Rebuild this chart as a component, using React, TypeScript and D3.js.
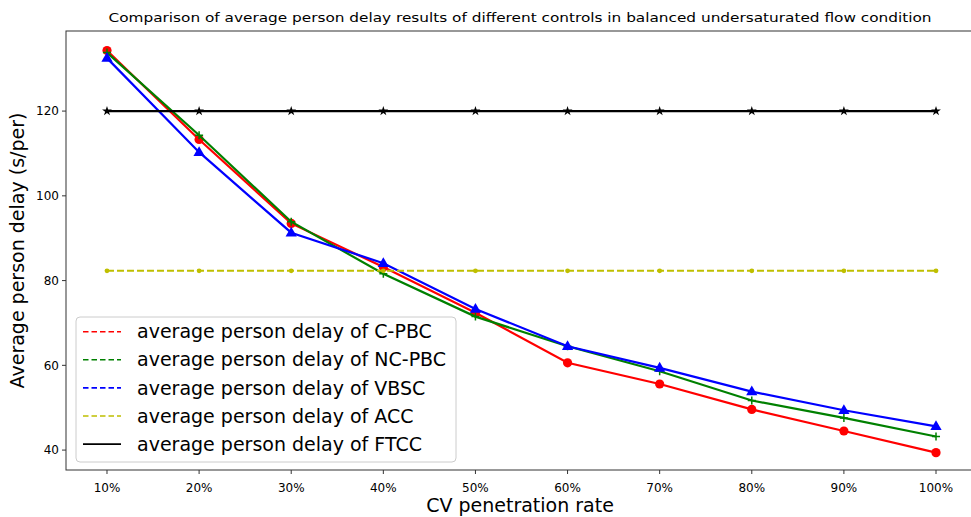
import React from "react";
import * as d3 from "d3";

const categories = ["10%", "20%", "30%", "40%", "50%", "60%", "70%", "80%", "90%", "100%"];
const cpbc = [134.3, 113.3, 93.5, 83.2, 72.4, 60.6, 55.6, 49.6, 44.5, 39.4];
const ncpbc = [133.8, 114.3, 93.9, 81.6, 71.5, 64.5, 58.6, 51.7, 47.6, 43.2];
const vbsc = [132.5, 110.3, 91.3, 84.1, 73.3, 64.5, 59.4, 53.8, 49.4, 45.6];
const acc = [82.3, 82.3, 82.3, 82.3, 82.3, 82.3, 82.3, 82.3, 82.3, 82.3];
const ftcc = [120, 120, 120, 120, 120, 120, 120, 120, 120, 120];
const yTicks = [40, 60, 80, 100, 120];
const legendLabels = [
  "average person delay of C-PBC",
  "average person delay of NC-PBC",
  "average person delay of VBSC",
  "average person delay of ACC",
  "average person delay of FTCC",
];

const font = "'DejaVu Sans', sans-serif";

const series = [
  { name: "C-PBC", values: cpbc, color: "#ff0000", marker: "circle", dashed: true },
  { name: "NC-PBC", values: ncpbc, color: "#008000", marker: "plus", dashed: true },
  { name: "VBSC", values: vbsc, color: "#0000ff", marker: "triangle", dashed: true },
  { name: "ACC", values: acc, color: "#bfbf00", marker: "dot", dashed: true },
  { name: "FTCC", values: ftcc, color: "#000000", marker: "star", dashed: false },
];

const App: React.FC = () => {
  const width = 971;
  const height = 517;
  const margin = { top: 31, left: 66, right: 977, bottom: 470 };

  const x = d3.scaleLinear().domain([-0.445, 9.445]).range([margin.left, margin.right]);
  const y = d3.scaleLinear().domain([35.3, 138.9]).range([margin.bottom, margin.top]);

  const line = d3
    .line<number>()
    .x((_, i) => x(i))
    .y((d) => y(d));

  const triangle = d3.symbol().type(d3.symbolTriangle).size(55)()!;
  const star = d3.symbol().type(d3.symbolStar).size(30)()!;

  const drawMarker = (kind: string, cx: number, cy: number, color: string, key: string) => {
    if (kind === "circle") return <circle key={key} cx={cx} cy={cy} r={4.6} fill={color} />;
    if (kind === "dot") return <circle key={key} cx={cx} cy={cy} r={2.4} fill={color} />;
    if (kind === "plus")
      return (
        <path key={key} d={`M${cx - 4},${cy}H${cx + 4}M${cx},${cy - 4}V${cy + 4}`} stroke={color} strokeWidth={1.5} />
      );
    if (kind === "triangle")
      return <path key={key} d={triangle} transform={`translate(${cx},${cy + 0.5})`} fill={color} />;
    return <path key={key} d={star} transform={`translate(${cx},${cy})`} fill={color} />;
  };

  const legendX = 76;
  const legendY = 317;
  const rowH = 28.1;

  return (
    <svg
      width={width}
      height={height}
      style={{ position: "absolute", left: 0, top: 0, background: "#fff" }}
      fontFamily={font}
    >
      <rect x={0} y={0} width={width} height={height} fill="#fff" />

      {/* title */}
      <text x={520} y={22} textAnchor="middle" fontSize={13} textLength={823} lengthAdjust="spacingAndGlyphs">
        Comparison of average person delay results of different controls in balanced undersaturated flow condition
      </text>

      {/* series lines */}
      {series.map((s) => (
        <g key={s.name}>
          <path
            d={line(s.values) || ""}
            fill="none"
            stroke={s.color}
            strokeWidth={s.name === "ACC" ? 2 : 2.2}
            strokeDasharray={s.name === "ACC" ? "7,3" : undefined}
          />
          {s.values.map((v, i) => drawMarker(s.marker, x(i), y(v), s.color, `${s.name}-${i}`))}
        </g>
      ))}

      {/* frame */}
      <rect
        x={margin.left}
        y={margin.top}
        width={margin.right - margin.left}
        height={margin.bottom - margin.top}
        fill="none"
        stroke="#333"
        strokeWidth={1}
      />

      {/* y axis */}
      {yTicks.map((t) => (
        <g key={t}>
          <line x1={margin.left - 4} x2={margin.left} y1={y(t)} y2={y(t)} stroke="#333" />
          <text x={margin.left - 7} y={y(t)} dy="0.35em" textAnchor="end" fontSize={12}>
            {t}
          </text>
        </g>
      ))}
      <text
        transform={`translate(24,${(margin.top + margin.bottom) / 2}) rotate(-90)`}
        textAnchor="middle"
        fontSize={19}
      >
        Average person delay (s/per)
      </text>

      {/* x axis */}
      {categories.map((c, i) => (
        <g key={c}>
          <line x1={x(i)} x2={x(i)} y1={margin.bottom} y2={margin.bottom + 4} stroke="#333" />
          <text x={x(i)} y={margin.bottom + 22} textAnchor="middle" fontSize={12}>
            {c}
          </text>
        </g>
      ))}
      <text x={520} y={512} textAnchor="middle" fontSize={19}>
        CV penetration rate
      </text>

      {/* legend */}
      <rect
        x={legendX}
        y={legendY}
        width={380}
        height={145}
        rx={4}
        fill="#fff"
        fillOpacity={0.8}
        stroke="#cccccc"
      />
      {series.map((s, i) => {
        const cy = legendY + 14.7 + i * rowH;
        return (
          <g key={`leg-${s.name}`}>
            <line
              x1={legendX + 7}
              x2={legendX + 45}
              y1={cy}
              y2={cy}
              stroke={s.color}
              strokeWidth={1.6}
              strokeDasharray={s.dashed ? "5.5,3" : undefined}
            />
            <text x={legendX + 61} y={cy} dy="0.35em" fontSize={19}>
              {legendLabels[i]}
            </text>
          </g>
        );
      })}
    </svg>
  );
};

export default App;
